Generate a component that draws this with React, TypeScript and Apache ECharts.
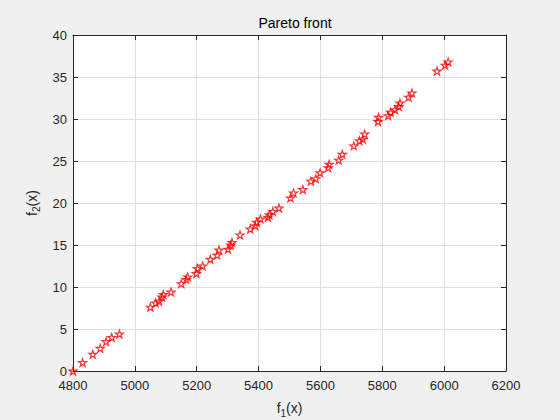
import React, { useEffect, useRef } from "react";
import * as echarts from "echarts";

const f1Values: number[] = [
  4800, 4831, 4864, 4888, 4907, 4925, 4950,
  5050, 5067, 5078, 5088, 5092, 5117, 5150, 5166, 5171, 5199, 5202, 5219, 5244,
  5266, 5272, 5301, 5310, 5314, 5340, 5373, 5389, 5394, 5406, 5430, 5435, 5446,
  5466, 5503, 5513, 5543, 5569, 5585, 5599, 5625, 5628, 5659, 5671, 5708, 5726,
  5737, 5743, 5786, 5788, 5819, 5827, 5841, 5853, 5857, 5885, 5896,
  5977, 6003, 6013,
];
const f2Values: number[] = [
  0, 1.0, 2.0, 2.7, 3.5, 4.0, 4.4,
  7.6, 8.1, 8.3, 8.8, 9.1, 9.4, 10.4, 10.9, 11.2, 11.6, 12.2, 12.5, 13.3,
  13.8, 14.4, 14.5, 15.0, 15.3, 16.2, 16.9, 17.3, 17.7, 18.1, 18.3, 18.6, 19.0,
  19.4, 20.6, 21.2, 21.6, 22.6, 22.9, 23.6, 24.2, 24.6, 25.1, 25.8, 26.8, 27.4,
  27.6, 28.2, 29.7, 30.2, 30.4, 30.8, 31.1, 31.5, 31.9, 32.6, 33.1,
  35.7, 36.4, 36.8,
];
const xTicks = { min: 4800, max: 6200, interval: 200 };
const yTicks = { min: 0, max: 40, interval: 5 };
const titleText = "Pareto front";

const STAR =
  "path://M10,0 L12.245,6.91 L19.51,6.91 L13.63,11.18 L15.88,18.09 L10,13.82 L4.12,18.09 L6.37,11.18 L0.49,6.91 L7.755,6.91 Z";

export default function App() {
  const ref = useRef<HTMLDivElement>(null);
  useEffect(() => {
    if (!ref.current) return;
    const chart = echarts.init(ref.current, undefined, { renderer: "svg" });
    const axisColor = "#262626";
    const font = "Arial, 'Liberation Sans', Helvetica, sans-serif";
    const data = f1Values.map((x, i) => [x, f2Values[i]]);
    const plain = (v: number) => String(v);
    const hidden = {
      axisLabel: { show: false },
      splitLine: { show: false },
      axisLine: { show: true, onZero: false, lineStyle: { color: axisColor, width: 1 } },
      axisTick: { show: true, inside: true, length: 5, lineStyle: { color: axisColor } },
    };
    chart.setOption({
      animation: false,
      backgroundColor: "#f0f0f0",
      title: {
        text: titleText,
        left: 290,
        top: 11,
        textAlign: "center",
        textStyle: { fontFamily: font, fontSize: 14, fontWeight: "normal", color: "#000" },
      },
      grid: {
        left: 73,
        right: 54,
        top: 35,
        bottom: 49,
        show: true,
        backgroundColor: "#ffffff",
        borderWidth: 0,
        outerBoundsMode: "none",
        containLabel: false,
      },
      xAxis: [
        {
          type: "value",
          ...xTicks,
          position: "bottom",
          name: "{f|f}{s|1}{f|(x)}",
          nameLocation: "middle",
          nameGap: 27,
          nameTextStyle: {
            rich: {
              f: { fontFamily: font, fontSize: 14, color: axisColor },
              s: { fontFamily: font, fontSize: 10, color: axisColor, padding: [10, 0, 0, 0] },
            },
          },
          axisLine: { show: true, onZero: false, lineStyle: { color: axisColor, width: 1 } },
          axisTick: { show: true, inside: true, length: 5, lineStyle: { color: axisColor } },
          axisLabel: { fontFamily: font, fontSize: 13, color: axisColor, margin: 8, formatter: plain },
          splitLine: { show: true, lineStyle: { color: "#dfdfdf", width: 1 } },
        },
        { type: "value", ...xTicks, position: "top", ...hidden },
      ],
      yAxis: [
        {
          type: "value",
          ...yTicks,
          position: "left",
          name: "{f|f}{s|2}{f|(x)}",
          nameLocation: "middle",
          nameGap: 28,
          nameRotate: 90,
          nameTextStyle: {
            rich: {
              f: { fontFamily: font, fontSize: 14, color: axisColor },
              s: { fontFamily: font, fontSize: 10, color: axisColor, padding: [10, 0, 0, 0] },
            },
          },
          axisLine: { show: true, onZero: false, lineStyle: { color: axisColor, width: 1 } },
          axisTick: { show: true, inside: true, length: 5, lineStyle: { color: axisColor } },
          axisLabel: { fontFamily: font, fontSize: 13, color: axisColor, margin: 6, formatter: plain },
          splitLine: { show: true, lineStyle: { color: "#dfdfdf", width: 1 } },
        },
        { type: "value", ...yTicks, position: "right", ...hidden },
      ],
      series: [
        {
          type: "scatter",
          data,
          symbol: STAR,
          symbolSize: 8,
          symbolKeepAspect: true,
          itemStyle: { color: "rgba(0,0,0,0)", borderColor: "#ff0000", borderWidth: 1.2 },
          clip: false,
        },
      ],
    });
    return () => chart.dispose();
  }, []);
  return <div ref={ref} style={{ width: 560, height: 420, position: "absolute", left: 0, top: 0 }} />;
}
